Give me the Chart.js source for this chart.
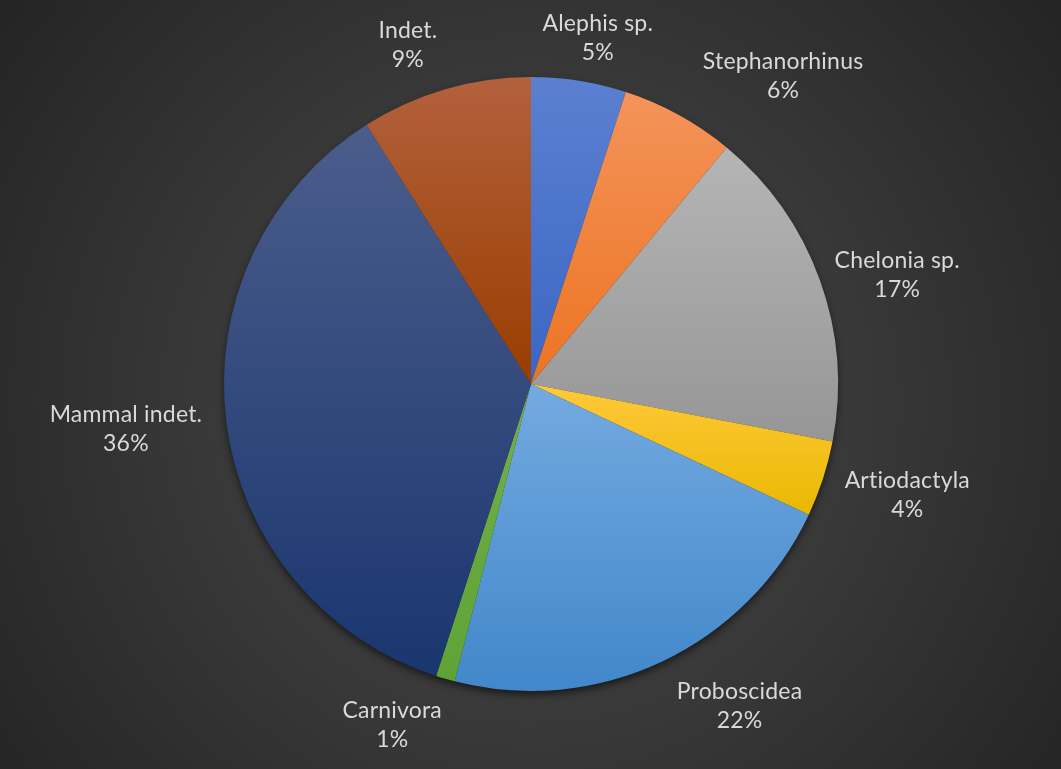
<!DOCTYPE html>
<html>
<head>
<meta charset="utf-8">
<script src="https://cdn.jsdelivr.net/npm/chart.js@4.4.1/dist/chart.umd.min.js"></script>
<style>
  html, body { margin: 0; padding: 0; background: #333; }
  #wrap { width: 1061px; height: 769px; }
</style>
</head>
<body>
<div id="wrap"><canvas id="pie" width="1061" height="769"></canvas></div>
<script>
// fauna composition (% of remains)
const taxa = ['Alephis sp.', 'Stephanorhinus', 'Chelonia sp.', 'Artiodactyla', 'Proboscidea', 'Carnivora', 'Mammal indet.', 'Indet.'];
const shares = [5, 6, 17, 4, 22, 1, 36, 9];

// slice shading, light at the top of each slice to darker at the bottom
const topColors = ['#5b80d0', '#f4935a', '#b5b5b5', '#ffc93a', '#74aae0', '#72b04a', '#4b5d8b', '#b3613d'];
const bottomColors = ['#3a66c4', '#ec7422', '#969696', '#e9b800', '#4187ca', '#5fa336', '#1a366f', '#993d00'];

// dark radial backdrop
const backdrop = {
  id: 'backdrop',
  beforeDraw(chart) {
    const { ctx, width, height } = chart;
    const g = ctx.createRadialGradient(width / 2, height / 2 + 20, 0, width / 2, height / 2 + 20, 680);
    g.addColorStop(0, '#4c4c4c');
    g.addColorStop(1, '#232323');
    ctx.save();
    ctx.fillStyle = g;
    ctx.fillRect(0, 0, width, height);
    ctx.restore();
  }
};

// soft shadow under the pie + per-slice vertical gradients
const sliceStyle = {
  id: 'sliceStyle',
  beforeDatasetsDraw(chart) {
    const ctx = chart.ctx;
    const meta = chart.getDatasetMeta(0);
    if (!meta.data.length) return;
    const a0 = meta.data[0];
    ctx.save();
    ctx.shadowColor = 'rgba(0,0,0,0.65)';
    ctx.shadowBlur = 9;
    ctx.shadowOffsetY = 4;
    ctx.fillStyle = '#2a2a2a';
    ctx.beginPath();
    ctx.arc(a0.x, a0.y, a0.outerRadius - 1, 0, Math.PI * 2);
    ctx.fill();
    ctx.restore();

    meta.data.forEach((arc, i) => {
      const { x, y, startAngle, endAngle, outerRadius } = arc;
      let ys = [y, y + Math.sin(startAngle) * outerRadius, y + Math.sin(endAngle) * outerRadius];
      // include top / bottom extremes of the circle when the arc passes them
      [-Math.PI / 2, Math.PI / 2, 3 * Math.PI / 2].forEach(a => {
        if (a >= startAngle && a <= endAngle) ys.push(y + Math.sin(a) * outerRadius);
      });
      const top = Math.min(...ys), bottom = Math.max(...ys);
      const g = ctx.createLinearGradient(0, top, 0, bottom);
      g.addColorStop(0, topColors[i]);
      g.addColorStop(1, bottomColors[i]);
      arc.options.backgroundColor = g;
    });
  }
};

// category name + percentage outside each slice
const outsideLabels = {
  id: 'outsideLabels',
  afterDatasetsDraw(chart, args, opts) {
    const ctx = chart.ctx;
    const meta = chart.getDatasetMeta(0);
    const data = chart.data.datasets[0].data;
    const total = data.reduce((a, b) => a + b, 0);
    ctx.save();
    ctx.font = opts.font;
    ctx.letterSpacing = '0.2px'; // also keeps "ti" from joining
    ctx.fillStyle = opts.color;
    ctx.textAlign = 'center';
    ctx.textBaseline = 'alphabetic';
    meta.data.forEach((arc, i) => {
      const { x, y, startAngle, endAngle, outerRadius } = arc;
      const mid = (startAngle + endAngle) / 2;
      const ux = Math.cos(mid), uy = Math.sin(mid);
      const lines = [chart.data.labels[i], Math.round(data[i] / total * 100) + '%'];
      const w = Math.max(...lines.map(l => ctx.measureText(l).width));
      const h = opts.lineHeight * lines.length;
      // spread crowded labels a little, like the office "best fit" layout
      const nudge = opts.nudge[i] || [0, 0];
      const cx = x + ux * (outerRadius + opts.gap) + ux * w / 2 + nudge[0];
      const cy = y + uy * (outerRadius + opts.gap) + uy * h / 2 + nudge[1];
      lines.forEach((l, k) => {
        ctx.fillText(l, cx, cy - h / 2 + opts.lineHeight * (k + 1) - opts.descent);
      });
    });
    ctx.restore();
  }
};

new Chart(document.getElementById('pie'), {
  type: 'pie',
  data: {
    labels: taxa,
    datasets: [{
      data: shares,
      backgroundColor: bottomColors,
      borderWidth: 0
    }]
  },
  options: {
    responsive: false,
    animation: false,
    layout: { padding: { left: 224, right: 223, top: 77, bottom: 78 } },
    plugins: {
      legend: { display: false },
      tooltip: { enabled: false },
      outsideLabels: {
        font: '23px Lato',
        color: '#d9d9d9',
        lineHeight: 29,
        gap: 26,
        descent: 8,
        nudge: [[6, 13], [53, 10], [-6, 15], [0, 0], [40, -5], [-32, -6], [1, 1], [-22, 10]]
      }
    }
  },
  plugins: [backdrop, sliceStyle, outsideLabels]
});
</script>
</body>
</html>
